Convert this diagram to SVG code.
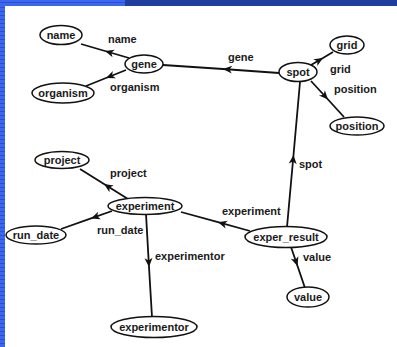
<svg xmlns="http://www.w3.org/2000/svg" width="397" height="347" viewBox="0 0 397 347">
  <defs>
    <style>
      .node ellipse { fill: #ffffff; stroke: #111111; stroke-width: 1.5; }
      .node text { font-family: "Liberation Sans", Arial, sans-serif; font-weight: bold; font-size: 11px; fill: #1a1a1a; text-anchor: middle; }
      .edge { fill: none; stroke: #111111; stroke-width: 1.8; marker-mid: url(#arrow); }
      .lbl { font-family: "Liberation Sans", Arial, sans-serif; font-weight: bold; font-size: 11px; fill: #1a1a1a; }
    </style>
    <marker id="arrow" viewBox="-10 -5 11 10" markerWidth="11" markerHeight="10" refX="0" refY="0" orient="auto" markerUnits="userSpaceOnUse">
      <path d="M0,0 L-9,-4 L-6.5,0 L-9,4 Z" fill="#111111"/>
    </marker>
    <pattern id="stripes" width="5" height="4" patternUnits="userSpaceOnUse">
      <rect width="5" height="4" fill="#3a66f0"/>
      <rect y="3" width="5" height="1" fill="#2a4fd0"/>
    </pattern>
  </defs>

  <!-- page background with slide frame -->
  <rect width="397" height="347" fill="#ffffff"/>
  <rect x="0" y="0" width="5" height="347" fill="url(#stripes)"/>
  <rect x="0" y="0" width="125" height="6" fill="#3a66f0"/>
  <rect x="0" y="2" width="125" height="1" fill="#2a4fd0"/>
  <rect x="125" y="0" width="272" height="6" fill="#1e3d9c"/>

  <!-- connectors: each path passes through its arrow tip -->
  <g id="connectors">
    <path class="edge" d="M129,58 L105,51 L81,44"/>
    <path class="edge" d="M126,70 L106,78 L86,86"/>
    <path class="edge" d="M279,73 L223,69 L163,65"/>
    <path class="edge" d="M311,65 L323,58 L333,52"/>
    <path class="edge" d="M311,81 L328,99.5 L344,117"/>
    <path class="edge" d="M287,227 L293.5,155 L300,82"/>
    <path class="edge" d="M250,231 L218,222.2 L181,212"/>
    <path class="edge" d="M291,247 L297.5,266 L305,288"/>
    <path class="edge" d="M128,199 L104,184 L80,169"/>
    <path class="edge" d="M112,211 L91,218.4 L61,229"/>
    <path class="edge" d="M146,214 L149,267 L152,317"/>

    <text class="lbl" x="108" y="43">name</text>
    <text class="lbl" x="110" y="91">organism</text>
    <text class="lbl" x="228" y="61">gene</text>
    <text class="lbl" x="330" y="73">grid</text>
    <text class="lbl" x="334" y="93">position</text>
    <text class="lbl" x="299" y="168">spot</text>
    <text class="lbl" x="110" y="177">project</text>
    <text class="lbl" x="97" y="234">run_date</text>
    <text class="lbl" x="222" y="215">experiment</text>
    <text class="lbl" x="155" y="260">experimentor</text>
    <text class="lbl" x="303" y="261">value</text>
  </g>

  <g id="name" class="node">
    <ellipse cx="61" cy="35" rx="21" ry="9.5"/>
    <text x="61" y="39">name</text>
  </g>
  <g id="gene" class="node">
    <ellipse cx="144" cy="64" rx="19" ry="9"/>
    <text x="144" y="68">gene</text>
  </g>
  <g id="organism" class="node">
    <ellipse cx="63" cy="93" rx="31" ry="10"/>
    <text x="63" y="97">organism</text>
  </g>
  <g id="spot" class="node">
    <ellipse cx="298" cy="72" rx="19" ry="9.5"/>
    <text x="298" y="76">spot</text>
  </g>
  <g id="grid" class="node">
    <ellipse cx="347" cy="45" rx="17" ry="9"/>
    <text x="347" y="49">grid</text>
  </g>
  <g id="position" class="node">
    <ellipse cx="357" cy="126" rx="27" ry="9"/>
    <text x="357" y="130">position</text>
  </g>
  <g id="project" class="node">
    <ellipse cx="62" cy="160" rx="27" ry="8.5"/>
    <text x="62" y="164">project</text>
  </g>
  <g id="experiment" class="node">
    <ellipse cx="145" cy="206" rx="37" ry="8.5"/>
    <text x="145" y="210">experiment</text>
  </g>
  <g id="run_date" class="node">
    <ellipse cx="36" cy="235" rx="30" ry="9"/>
    <text x="36" y="239">run_date</text>
  </g>
  <g id="exper_result" class="node">
    <ellipse cx="286" cy="237" rx="41" ry="10.5"/>
    <text x="286" y="241">exper_result</text>
  </g>
  <g id="value" class="node">
    <ellipse cx="308" cy="297" rx="21" ry="10"/>
    <text x="308" y="301">value</text>
  </g>
  <g id="experimentor" class="node">
    <ellipse cx="154" cy="327" rx="43" ry="10.5"/>
    <text x="154" y="331">experimentor</text>
  </g>
</svg>
